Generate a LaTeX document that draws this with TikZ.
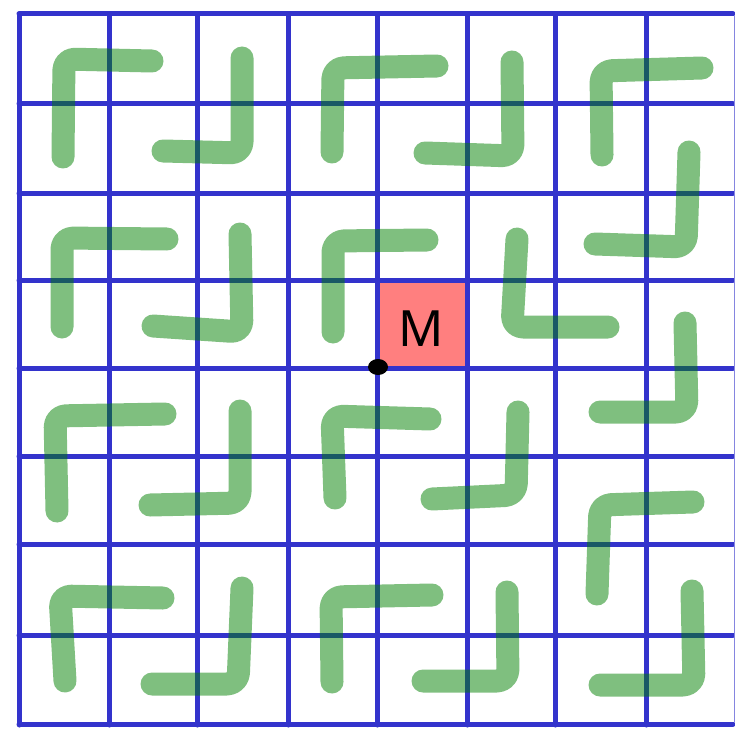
\documentclass[tikz,border=0pt]{standalone}
\usepackage{fontspec}
\setsansfont{Noto Sans}
\definecolor{gridblue}{RGB}{51,51,204}
\definecolor{trogreen}{RGB}{0,128,0}
\definecolor{mred}{RGB}{255,0,0}
\tikzset{
  gridline/.style={draw=gridblue, line width=5pt, line cap=round},
  tromino/.style={draw=trogreen, draw opacity=0.5, line width=23pt, line cap=round, line join=round, rounded corners=11pt},
  missing/.style={fill=mred, fill opacity=0.5, rounded corners=3pt},
  mlabel/.style={inner sep=0pt, font=\sffamily\fontsize{50}{50}\selectfont, text=black},
}
\begin{document}
\begin{tikzpicture}[x=1pt,y=-1pt]
\useasboundingbox (0,0) rectangle (735,730);
\fill[white] (0,0) rectangle (735,730);
% missing cell
\fill[missing] (378,281) rectangle (466,367);
% grid
\foreach \x in {19,109,197,288,377,467,555,646} \draw[gridline] (\x,14) -- (\x,725);
\foreach \y in {14,104,193,280,368,456,544,635,724} \draw[gridline] (19,\y) -- (733,\y);
\draw[gridblue!60, line width=1pt] (734.5,15) -- (734.5,723);
% trominoes
\draw[tromino] (152,61) -- (64,59) -- (63,157);
\draw[tromino] (242,58) -- (242,153) -- (163,151);
\draw[tromino] (437,66) -- (333,68) -- (332,152);
\draw[tromino] (512,62) -- (513,156) -- (425,153);
\draw[tromino] (702,68) -- (601,71) -- (602,155);
\draw[tromino] (689,152) -- (686,247) -- (595,244);
\draw[tromino] (167,239) -- (62,238) -- (62,327);
\draw[tromino] (240,234) -- (242,332) -- (153,326);
\draw[tromino] (427,240) -- (333,241) -- (333,332);
\draw[tromino] (517,239) -- (512,327) -- (608,327);
\draw[tromino] (685,323) -- (687,412) -- (600,412);
\draw[tromino] (165,414) -- (55,416) -- (57,511);
\draw[tromino] (240,411) -- (240,503) -- (150,505);
\draw[tromino] (430,419) -- (332,416) -- (335,498);
\draw[tromino] (518,412) -- (516,495) -- (432,499);
\draw[tromino] (693,502) -- (600,505) -- (597,594);
\draw[tromino] (163,598) -- (60,596) -- (65,681);
\draw[tromino] (242,588) -- (238,684) -- (152,684);
\draw[tromino] (432,595) -- (331,597) -- (332,682);
\draw[tromino] (507,592) -- (508,681) -- (423,681);
\draw[tromino] (692,591) -- (694,685) -- (600,685);
% label and corner dot
\node[mlabel] (m) at (421,329) {M};
\fill[black] (378,367) ellipse [x radius=10pt, y radius=8pt];
\end{tikzpicture}
\end{document}
